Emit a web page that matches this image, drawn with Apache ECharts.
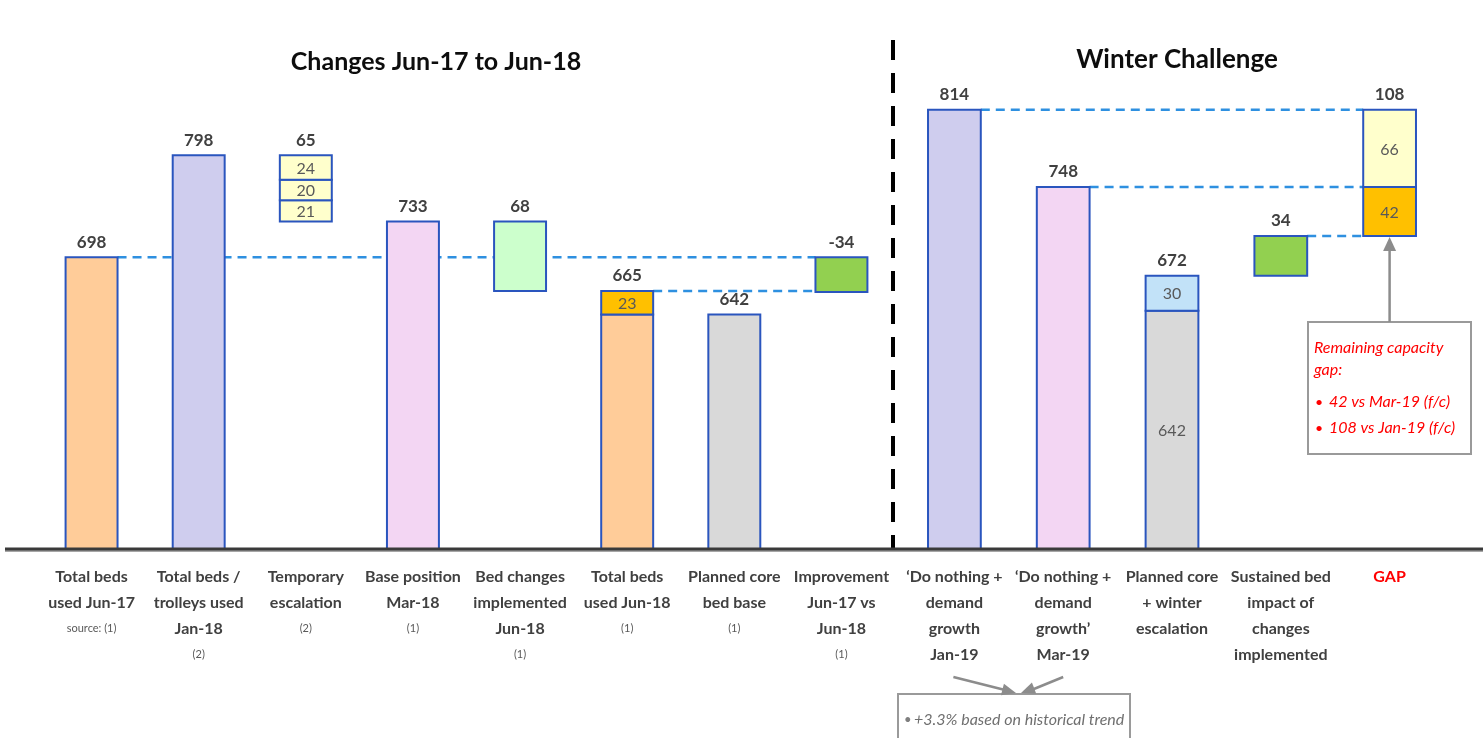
<!DOCTYPE html>
<html>
<head>
<meta charset="utf-8">
<script src="https://cdn.jsdelivr.net/npm/echarts@6/dist/echarts.min.js"></script>
<style>
html,body{margin:0;padding:0;background:#ffffff;}
#chart{width:1483px;height:738px;}
</style>
</head>
<body>
<div id="chart"></div>
<script>
// ---------------- DATA ----------------
const leftCategories = [
  'Total beds\nused Jun-17',
  'Total beds /\ntrolleys used\nJan-18',
  'Temporary\nescalation',
  'Base position\nMar-18',
  'Bed changes\nimplemented\nJun-18',
  'Total beds\nused Jun-18',
  'Planned core\nbed base',
  'Improvement\nJun-17 vs\nJun-18'
];
const leftSources = ['source: (1)', '(2)', '(2)', '(1)', '(1)', '(1)', '(1)', '(1)'];
const rightCategories = [
  '\u2018Do nothing +\ndemand\ngrowth\nJan-19',
  '\u2018Do nothing +\ndemand\ngrowth\u2019\nMar-19',
  'Planned core\n+ winter\nescalation',
  'Sustained bed\nimpact of\nchanges\nimplemented',
  'GAP'
];

const bedsJun17 = 698;
const bedsJan18 = 798;
const tempEscalation = [21, 20, 24];      // bottom to top
const baseMar18 = 733;
const bedChangesJun18 = 68;
const coreJun18 = 642;
const extraJun18 = 23;
const plannedCoreBase = 642;
const improvement = -34;

const doNothingJan19 = 814;
const doNothingMar19 = 748;
const winterCore = 642;
const winterEscalation = 30;
const sustainedImpact = 34;
const gapParts = [42, 66];                 // bottom (vs Mar-19) to top

const leftTitle = 'Changes Jun-17 to Jun-18';
const rightTitle = 'Winter Challenge';
const noteGap = ['Remaining capacity', 'gap:', '42 vs Mar-19 (f/c)', '108 vs Jan-19 (f/c)'];
const noteGrowth = '+3.3% based on historical trend';

// ---------------- STYLE ----------------
const FONT = 'Lato, "Open Sans", sans-serif';
const PALETTE = {
  peach: '#FFCC99', lavender: '#CFCDEE', cream: '#FFFFCC', pink: '#F3D6F3',
  mint: '#CCFFCC', orange: '#FFC000', grey: '#D9D9D9', green: '#92D050', ice: '#C2E2F8'
};
const BORDER = '#2A55BE';
const LINK = '#2E90E0';
const BAR_RATIO = 0.485;
const GRID_TOP = 90, GRID_BOTTOM = 189, AXIS_Y = 738 - GRID_BOTTOM;

// ---------------- BUILD (waterfall logic) ----------------
const sum = a => a.reduce((p, c) => p + c, 0);
const leftSegs = [];
leftSegs.push({x: 0, low: 0, high: bedsJun17, kind: 'peach'});
leftSegs.push({x: 1, low: 0, high: bedsJan18, kind: 'lavender'});
let acc = baseMar18;
tempEscalation.forEach(v => { leftSegs.push({x: 2, low: acc, high: acc + v, kind: 'cream', inside: v}); acc += v; });
leftSegs.push({x: 3, low: 0, high: baseMar18, kind: 'pink'});
leftSegs.push({x: 4, low: baseMar18 - bedChangesJun18, high: baseMar18, kind: 'mint'});
leftSegs.push({x: 5, low: 0, high: coreJun18, kind: 'peach'});
leftSegs.push({x: 5, low: coreJun18, high: coreJun18 + extraJun18, kind: 'orange', inside: extraJun18});
leftSegs.push({x: 6, low: 0, high: plannedCoreBase, kind: 'grey'});
leftSegs.push({x: 7, low: bedsJun17 + improvement, high: bedsJun17, kind: 'green'});

const leftTops = [
  {x: 0, v: bedsJun17, t: bedsJun17},
  {x: 1, v: bedsJan18, t: bedsJan18},
  {x: 2, v: baseMar18 + sum(tempEscalation), t: sum(tempEscalation)},
  {x: 3, v: baseMar18, t: baseMar18},
  {x: 4, v: baseMar18, t: bedChangesJun18},
  {x: 5, v: coreJun18 + extraJun18, t: coreJun18 + extraJun18},
  {x: 6, v: plannedCoreBase, t: plannedCoreBase},
  {x: 7, v: bedsJun17, t: improvement}
];
const leftLinks = [
  {from: 0, to: 7, v: bedsJun17},
  {from: 5, to: 7, v: coreJun18 + extraJun18}
];

const winterTotal = winterCore + winterEscalation;
const gapBase = winterTotal + sustainedImpact;
const rightSegs = [];
rightSegs.push({x: 0, low: 0, high: doNothingJan19, kind: 'lavender'});
rightSegs.push({x: 1, low: 0, high: doNothingMar19, kind: 'pink'});
rightSegs.push({x: 2, low: 0, high: winterCore, kind: 'grey', inside: winterCore});
rightSegs.push({x: 2, low: winterCore, high: winterTotal, kind: 'ice', inside: winterEscalation});
rightSegs.push({x: 3, low: winterTotal, high: gapBase, kind: 'green'});
rightSegs.push({x: 4, low: gapBase, high: gapBase + gapParts[0], kind: 'orange', inside: gapParts[0]});
rightSegs.push({x: 4, low: gapBase + gapParts[0], high: gapBase + sum(gapParts), kind: 'cream', inside: gapParts[1]});

const rightTops = [
  {x: 0, v: doNothingJan19, t: doNothingJan19},
  {x: 1, v: doNothingMar19, t: doNothingMar19},
  {x: 2, v: winterTotal, t: winterTotal},
  {x: 3, v: gapBase, t: sustainedImpact},
  {x: 4, v: gapBase + sum(gapParts), t: sum(gapParts)}
];
const rightLinks = [
  {from: 0, to: 4, v: doNothingJan19},
  {from: 1, to: 4, v: doNothingMar19},
  {from: 3, to: 4, v: gapBase}
];

// ---------------- RENDERERS ----------------
function segRenderer(segs) {
  return function (params, api) {
    const s = segs[params.dataIndex];
    const cs = params.coordSys;
    const bw = api.size([1, 0])[0] * BAR_RATIO;
    const top = api.coord([s.x, s.high]);
    const yLow = Math.min(api.coord([s.x, s.low])[1], cs.y + cs.height);
    const children = [{
      type: 'rect',
      shape: {x: top[0] - bw / 2, y: top[1], width: bw, height: yLow - top[1]},
      style: {fill: PALETTE[s.kind], stroke: BORDER, lineWidth: 2}
    }];
    if (s.inside != null) {
      children.push({
        type: 'text', x: top[0], y: (top[1] + yLow) / 2 + 1,
        style: {text: String(s.inside), fill: '#595959', fontSize: 16, fontFamily: FONT,
                align: 'center', verticalAlign: 'middle'}
      });
    }
    return {type: 'group', children: children};
  };
}
function topRenderer(tops) {
  return function (params, api) {
    const d = tops[params.dataIndex];
    const p = api.coord([d.x, d.v]);
    return {
      type: 'text', x: p[0], y: p[1] - 15,
      style: {text: String(d.t), fill: '#404040', fontSize: 17, fontWeight: 'bold', fontFamily: FONT,
              align: 'center', verticalAlign: 'middle'}
    };
  };
}
function linkRenderer(links) {
  return function (params, api) {
    const l = links[params.dataIndex];
    const hw = api.size([1, 0])[0] * BAR_RATIO / 2;
    const a = api.coord([l.from, l.v]);
    const b = api.coord([l.to, l.v]);
    return {
      type: 'line',
      shape: {x1: a[0] + hw, y1: a[1], x2: b[0] - hw, y2: b[1]},
      style: {stroke: LINK, lineWidth: 2.5, lineDash: [9, 6]}
    };
  };
}

function labelFormatter(cats, sources) {
  return function (value, index) {
    if (value === 'GAP') return '{g|GAP}';
    let s = value.split('\n').map(l => '{m|' + l + '}').join('\n');
    if (sources) s += '\n{s|' + sources[index] + '}';
    return s;
  };
}
const richStyle = {
  m: {fontFamily: FONT, fontSize: 16, fontWeight: 'bold', color: '#404040', lineHeight: 26},
  s: {fontFamily: FONT, fontSize: 11, color: '#595959', lineHeight: 25},
  g: {fontFamily: FONT, fontSize: 16, fontWeight: 'bold', color: '#FF0000', lineHeight: 26}
};

function xAxisFor(gridIndex, cats, sources) {
  return {
    type: 'category', gridIndex: gridIndex, data: cats,
    axisLine: {show: false}, axisTick: {show: false}, splitLine: {show: false},
    axisLabel: {interval: 0, margin: 15, formatter: labelFormatter(cats, sources), rich: richStyle}
  };
}
function yAxisFor(gridIndex, min, max) {
  return {type: 'value', gridIndex: gridIndex, min: min, max: max, show: false, splitLine: {show: false}};
}

const chart = echarts.init(document.getElementById('chart'), null, {renderer: 'canvas'});

chart.setOption({
  backgroundColor: '#ffffff',
  animation: false,
  grid: [
    {left: 38, width: 857, top: GRID_TOP, bottom: GRID_BOTTOM, containLabel: false},
    {left: 900, width: 544, top: GRID_TOP, bottom: GRID_BOTTOM, containLabel: false}
  ],
  xAxis: [xAxisFor(0, leftCategories, leftSources), xAxisFor(1, rightCategories, null)],
  yAxis: [yAxisFor(0, 412, 862), yAxisFor(1, 438, 831)],
  series: [
    {type: 'custom', xAxisIndex: 0, yAxisIndex: 0, z: 1, silent: true,
     renderItem: linkRenderer(leftLinks), data: leftLinks.map(l => [l.from, l.v]), encode: {x: 0, y: 1}},
    {type: 'custom', xAxisIndex: 0, yAxisIndex: 0, z: 2, silent: true,
     renderItem: segRenderer(leftSegs), data: leftSegs.map(s => [s.x, s.low, s.high]), encode: {x: 0, y: [1, 2]}},
    {type: 'custom', xAxisIndex: 0, yAxisIndex: 0, z: 3, silent: true,
     renderItem: topRenderer(leftTops), data: leftTops.map(d => [d.x, d.v]), encode: {x: 0, y: 1}},
    {type: 'custom', xAxisIndex: 1, yAxisIndex: 1, z: 1, silent: true,
     renderItem: linkRenderer(rightLinks), data: rightLinks.map(l => [l.from, l.v]), encode: {x: 0, y: 1}},
    {type: 'custom', xAxisIndex: 1, yAxisIndex: 1, z: 2, silent: true,
     renderItem: segRenderer(rightSegs), data: rightSegs.map(s => [s.x, s.low, s.high]), encode: {x: 0, y: [1, 2]}},
    {type: 'custom', xAxisIndex: 1, yAxisIndex: 1, z: 3, silent: true,
     renderItem: topRenderer(rightTops), data: rightTops.map(d => [d.x, d.v]), encode: {x: 0, y: 1}}
  ]
});

// decorations: titles, divider, base axis line and annotations
const gapBottom = chart.convertToPixel({xAxisIndex: 1, yAxisIndex: 1}, [4, gapBase]);
const janX = chart.convertToPixel({xAxisIndex: 1, yAxisIndex: 1}, [0, 0])[0];
const marX = chart.convertToPixel({xAxisIndex: 1, yAxisIndex: 1}, [1, 0])[0];
const GREY = '#8C8C8C';
function arrowHead(x1, y1, x2, y2, len, half) {
  const dx = x2 - x1, dy = y2 - y1, L = Math.sqrt(dx * dx + dy * dy);
  const ux = dx / L, uy = dy / L;
  const bx = x2 - ux * len, by = y2 - uy * len;
  return [[x2, y2], [bx - uy * half, by + ux * half], [bx + uy * half, by - ux * half]];
}
const redBox = {x: 1308, y: 322, w: 163, h: 132};
const growthBox = {x: 898, y: 694, w: 232, h: 70};
const meet = {x: 1019, y: growthBox.y};
const NOTE = {fontFamily: FONT, fontSize: 16, fontStyle: 'italic', fill: '#FF0000', verticalAlign: 'middle'};
const graphics = [
  {type: 'text', x: 436, y: 62, z: 10,
   style: {text: leftTitle, fontFamily: FONT, fontSize: 25, fontWeight: 'bold', fill: '#0D0D0D', align: 'center', verticalAlign: 'middle'}},
  {type: 'text', x: 1177, y: 60, z: 10,
   style: {text: rightTitle, fontFamily: FONT, fontSize: 26, fontWeight: 'bold', fill: '#0D0D0D', align: 'center', verticalAlign: 'middle'}},
  {type: 'line', z: 10, shape: {x1: 893, y1: 40, x2: 893, y2: AXIS_Y}, style: {stroke: '#000000', lineWidth: 4, lineDash: [20, 13]}},
  {type: 'line', z: 9, shape: {x1: 5, y1: AXIS_Y + 2, x2: 1483, y2: AXIS_Y + 2}, style: {stroke: '#A6A6A6', lineWidth: 2}},
  {type: 'line', z: 10, shape: {x1: 5, y1: AXIS_Y, x2: 1483, y2: AXIS_Y}, style: {stroke: '#3A3A3A', lineWidth: 3}},
  // red annotation
  {type: 'rect', z: 10, shape: {x: redBox.x, y: redBox.y, width: redBox.w, height: redBox.h},
   style: {fill: '#ffffff', stroke: '#9A9A9A', lineWidth: 2}},
  {type: 'line', z: 10, shape: {x1: gapBottom[0], y1: redBox.y, x2: gapBottom[0], y2: gapBottom[1] + 12},
   style: {stroke: GREY, lineWidth: 2.5}},
  {type: 'polygon', z: 10, shape: {points: arrowHead(gapBottom[0], redBox.y, gapBottom[0], gapBottom[1] + 1, 14, 6.5)},
   style: {fill: GREY}},
  {type: 'text', z: 11, x: 1314, y: 348, style: Object.assign({text: noteGap[0]}, NOTE)},
  {type: 'text', z: 11, x: 1314, y: 370, style: Object.assign({text: noteGap[1]}, NOTE)},
  {type: 'text', z: 11, x: 1315, y: 402, style: {text: '\u2022', fontFamily: FONT, fontSize: 14, fill: '#FF0000', verticalAlign: 'middle'}},
  {type: 'text', z: 11, x: 1329, y: 402, style: Object.assign({text: noteGap[2]}, NOTE)},
  {type: 'text', z: 11, x: 1315, y: 428, style: {text: '\u2022', fontFamily: FONT, fontSize: 14, fill: '#FF0000', verticalAlign: 'middle'}},
  {type: 'text', z: 11, x: 1329, y: 428, style: Object.assign({text: noteGap[3]}, NOTE)},
  // growth annotation
  {type: 'rect', z: 10, shape: {x: growthBox.x, y: growthBox.y, width: growthBox.w, height: growthBox.h},
   style: {fill: '#ffffff', stroke: '#9A9A9A', lineWidth: 2}},
  {type: 'text', z: 11, x: 904, y: 720, style: {text: '\u2022', fontFamily: FONT, fontSize: 13, fill: '#7F7F7F', verticalAlign: 'middle'}},
  {type: 'text', z: 11, x: 914, y: 720, style: {text: noteGrowth, fontFamily: FONT, fontSize: 16, fontStyle: 'italic', fill: '#6F6F6F', verticalAlign: 'middle'}},
  {type: 'line', z: 10, shape: {x1: janX - 1, y1: 677, x2: meet.x - 10, y2: meet.y - 3}, style: {stroke: GREY, lineWidth: 2.5}},
  {type: 'polygon', z: 10, shape: {points: arrowHead(janX - 1, 677, meet.x - 3, meet.y - 1, 14, 6)}, style: {fill: GREY}},
  {type: 'line', z: 10, shape: {x1: marX, y1: 677, x2: meet.x + 10, y2: meet.y - 3}, style: {stroke: GREY, lineWidth: 2.5}},
  {type: 'polygon', z: 10, shape: {points: arrowHead(marX, 677, meet.x + 2, meet.y - 1, 14, 6)}, style: {fill: GREY}}
];
chart.setOption({graphic: graphics});
</script>
</body>
</html>
